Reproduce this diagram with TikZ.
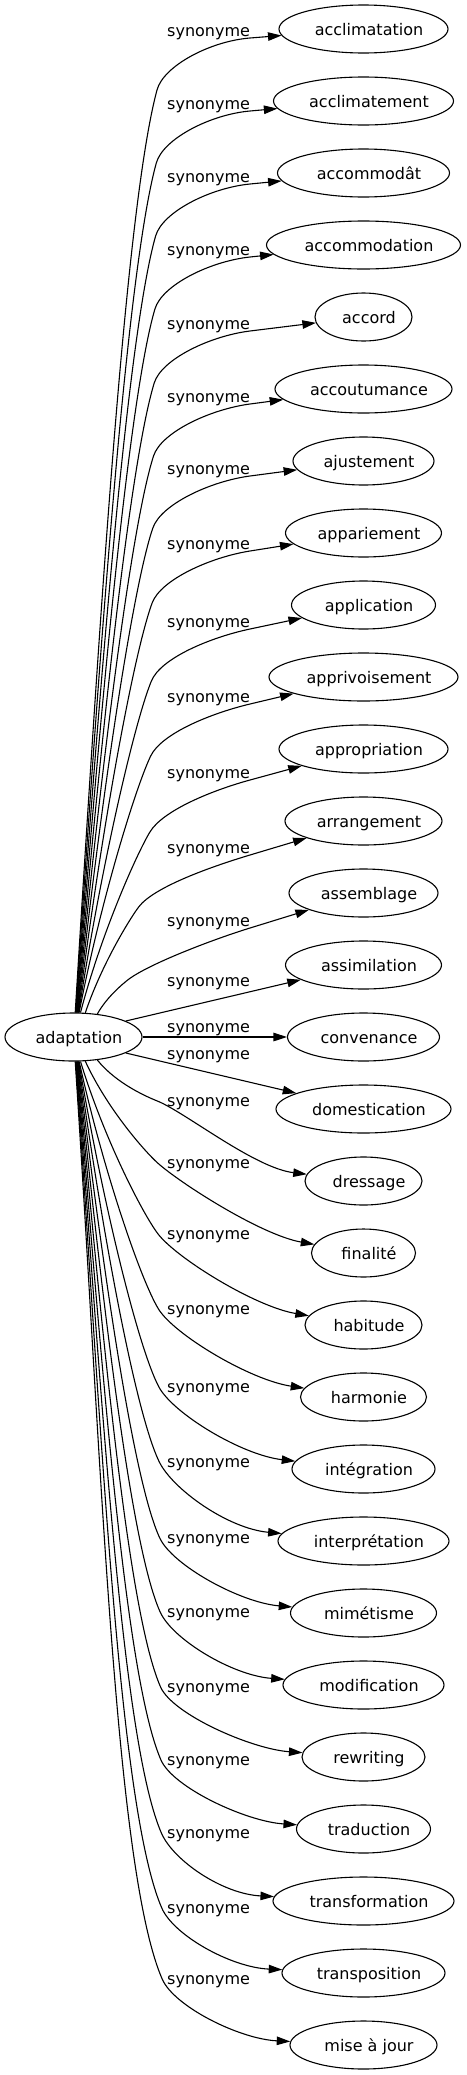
\documentclass[tikz,border=0pt]{standalone}
\usepackage{fontspec}
\setmainfont{DejaVu Sans}
\usetikzlibrary{arrows.meta,shapes.geometric,calc}
\newcommand\gvfont{\fontsize{16}{19}\selectfont}
\tikzset{
  gvnode/.style={draw, ellipse, line width=1.1pt, minimum height=48pt, inner xsep=0pt, inner ysep=0pt,
    text height=16pt, text depth=4pt, font=\gvfont},
  lbl/.style={anchor=base west, inner sep=0pt, font=\gvfont},
  synedge/.style={draw, line width=1.1pt, -{Triangle[length=13.5pt,width=8.5pt]}},
}
\newcommand\gvtext[1]{\makebox[0pt][c]{\hspace{11pt}#1}}
\newcommand\tnode[4]{\node[gvnode, minimum width=#3pt] (#1) at (363.5,#2) {\gvtext{#4}};}
\newcommand\mylbl[2]{\node[lbl] (#1) at (167,#2+5) {synonyme};}
% upper edge: #1 target, #2 label y, #3 target y, #4 start angle
\newcommand\upedge[4]{%
  \pgfmathsetmacro\myD{1037-#2}%
  \pgfmathsetmacro\myPx{min(157-0.0095*(1006-\myD),149.9-0.15*(264-\myD))}%
  \pgfmathsetmacro\myPy{#2+59}%
  \pgfmathsetmacro\myr{1/sqrt((cos(#4)/68.5)^2+(sin(#4)/24)^2)}%
  \pgfmathsetmacro\mySx{73.5+\myr*cos(#4)}%
  \pgfmathsetmacro\mySy{1037-\myr*sin(#4)}%
  \pgfmathsetmacro\mycx{\myPx-\mySx}%
  \pgfmathsetmacro\mycy{\mySy-\myPy}%
  \pgfmathsetmacro\mycl{100*sqrt((\mycx/100)^2+(\mycy/100)^2)}%
  \pgfmathsetmacro\myg{atan(\mycx/\mycy)}%
  \pgfmathsetmacro\myaS{0.7*\myg}%
  \pgfmathsetmacro\myaP{\myg+10}%
  \pgfmathsetmacro\myax{\mySx+0.43*\mycl*sin(\myaS)}%
  \pgfmathsetmacro\myay{\mySy-0.43*\mycl*cos(\myaS)}%
  \pgfmathsetmacro\mybx{\myPx-0.13*\mycl*sin(\myaP)}%
  \pgfmathsetmacro\myby{\myPy+0.13*\mycl*cos(\myaP)}%
  \pgfmathsetmacro\mycpx{\myPx+25*sin(\myaP)}%
  \pgfmathsetmacro\mycpy{\myPy-25*cos(\myaP)}%
  \pgfmathsetmacro\myMy{#2+7}%
  \pgfmathsetmacro\mydy{#3-\myMy}%
  \pgfmathsetmacro\mynn{10*sqrt(1.135^2*100+(\mydy/10)^2)}%
  \pgfmathsetmacro\mydx{250-40*113.5/\mynn}%
  \pgfmathsetmacro\mydyy{\myMy-40*\mydy/\mynn}%
  \draw[synedge] (ad.#4) .. controls (\myax,\myay) and (\mybx,\myby) .. (\myPx,\myPy)
    .. controls (\mycpx,\mycpy) and (\mydx,\mydyy) .. (250,\myMy) -- (#1);%
}
% lower edge: #1 target, #2 label y, #3 target y, #4 start angle magnitude (below)
\newcommand\lowedge[4]{%
  \pgfmathsetmacro\myE{#2-1037}%
  \pgfmathsetmacro\myPx{157+0.0055*\myE}%
  \pgfmathsetmacro\myPy{#2}%
  \pgfmathsetmacro\myr{1/sqrt((cos(#4)/68.5)^2+(sin(#4)/24)^2)}%
  \pgfmathsetmacro\mySx{73.5+\myr*cos(#4)}%
  \pgfmathsetmacro\mySy{1037+\myr*sin(#4)}%
  \pgfmathsetmacro\mycx{\myPx-\mySx}%
  \pgfmathsetmacro\mycy{\myPy-\mySy}%
  \pgfmathsetmacro\mycl{100*sqrt((\mycx/100)^2+(\mycy/100)^2)}%
  \pgfmathsetmacro\myg{atan(\mycx/\mycy)}%
  \pgfmathsetmacro\myaS{0.7*\myg}%
  \pgfmathsetmacro\myaP{\myg+12+6*\myE/942}%
  \pgfmathsetmacro\myax{\mySx+0.43*\mycl*sin(\myaS)}%
  \pgfmathsetmacro\myay{\mySy+0.43*\mycl*cos(\myaS)}%
  \pgfmathsetmacro\mybx{\myPx-0.13*\mycl*sin(\myaP)}%
  \pgfmathsetmacro\myby{\myPy-0.13*\mycl*cos(\myaP)}%
  \pgfmathsetmacro\mycpx{\myPx+30*sin(\myaP)}%
  \pgfmathsetmacro\mycpy{\myPy+30*cos(\myaP)}%
  \pgfmathsetmacro\myup{(#3-#2-60)*0.5+3}%
  \pgfmathtruncatemacro\myan{360-#4}%
  \draw[synedge] (ad.\myan) .. controls (\myax,\myay) and (\mybx,\myby) .. (\myPx,\myPy)
    .. controls (\mycpx,\mycpy) and ($(#1.west)+(-50,-\myup)$) .. (#1);%
}
\begin{document}
\begin{tikzpicture}[x=1pt,y=-1pt]
\fill[white] (0,0) rectangle (466,2075);
\useasboundingbox (0,0) rectangle (466,2075);
\node[gvnode, minimum width=137pt] (ad) at (73.5,1037) {\gvtext{adaptation}};
\tnode{t0}{29}{169}{acclimatation}
\tnode{t1}{101}{180}{acclimatement}
\tnode{t2}{173}{172}{accommodât}
\tnode{t3}{245}{194}{accommodation}
\tnode{t4}{317}{97}{accord}
\tnode{t5}{389}{177}{accoutumance}
\tnode{t6}{461}{141}{ajustement}
\tnode{t7}{533}{156}{appariement}
\tnode{t8}{605}{144}{application}
\tnode{t9}{677}{189}{apprivoisement}
\tnode{t10}{749}{169}{appropriation}
\tnode{t11}{821}{157}{arrangement}
\tnode{t12}{893}{149}{assemblage}
\tnode{t13}{965}{156}{assimilation}
\tnode{t14}{1037}{152}{convenance}
\tnode{t15}{1109}{175}{domestication}
\tnode{t16}{1181}{117}{dressage}
\tnode{t17}{1253}{104}{finalité}
\tnode{t18}{1325}{117}{habitude}
\tnode{t19}{1397}{126}{harmonie}
\tnode{t20}{1469}{143}{intégration}
\tnode{t21}{1541}{171}{interprétation}
\tnode{t22}{1613}{146}{mimétisme}
\tnode{t23}{1685}{161}{modification}
\tnode{t24}{1757}{123}{rewriting}
\tnode{t25}{1829}{134}{traduction}
\tnode{t26}{1901}{181}{transformation}
\tnode{t27}{1973}{163}{transposition}
\tnode{t28}{2045}{147}{mise à jour}
% labels
\mylbl{l0}{31}
\mylbl{l1}{104}
\mylbl{l2}{177}
\mylbl{l3}{250}
\mylbl{l4}{324}
\mylbl{l5}{397}
\mylbl{l6}{469}
\mylbl{l7}{544}
\mylbl{l8}{622}
\mylbl{l9}{697}
\mylbl{l10}{773}
\mylbl{l11}{848}
\mylbl{l12}{921}
\mylbl{l13}{981}
\mylbl{l14}{1027}
\mylbl{l15}{1054}
\mylbl{l16}{1101}
\mylbl{l17}{1163}
\mylbl{l18}{1234}
\mylbl{l19}{1309}
\mylbl{l20}{1387}
\mylbl{l21}{1462}
\mylbl{l22}{1538}
\mylbl{l23}{1612}
\mylbl{l24}{1687}
\mylbl{l25}{1760}
\mylbl{l26}{1833}
\mylbl{l27}{1908}
\mylbl{l28}{1979}
% edges
\upedge{t0}{31}{29}{86}
\upedge{t1}{104}{101}{85}
\upedge{t2}{177}{173}{84}
\upedge{t3}{250}{245}{83}
\upedge{t4}{324}{317}{82}
\upedge{t5}{397}{389}{81}
\upedge{t6}{469}{461}{80}
\upedge{t7}{544}{533}{79}
\upedge{t8}{622}{605}{78}
\upedge{t9}{697}{677}{77}
\upedge{t10}{773}{749}{74}
\upedge{t11}{848}{821}{64}
\upedge{t12}{921}{893}{44}
\draw[synedge] (ad.17) -- (t13);
\draw[synedge] (ad) -- (t14);
\draw[synedge] (ad.343) -- (t15);
\lowedge{t16}{1101}{1181}{44}
\lowedge{t17}{1163}{1253}{64}
\lowedge{t18}{1234}{1325}{74}
\lowedge{t19}{1309}{1397}{77}
\lowedge{t20}{1387}{1469}{78}
\lowedge{t21}{1462}{1541}{79}
\lowedge{t22}{1538}{1613}{80}
\lowedge{t23}{1612}{1685}{81}
\lowedge{t24}{1687}{1757}{82}
\lowedge{t25}{1760}{1829}{83}
\lowedge{t26}{1833}{1901}{84}
\lowedge{t27}{1908}{1973}{85}
\lowedge{t28}{1979}{2045}{86}
\end{tikzpicture}
\end{document}
